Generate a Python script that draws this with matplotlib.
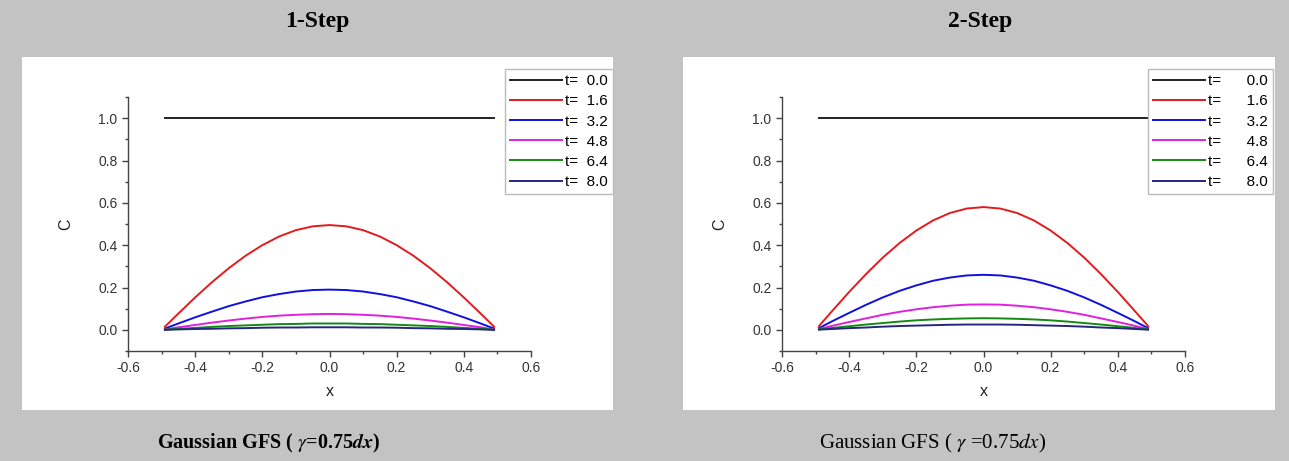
import matplotlib.pyplot as plt
from matplotlib.patches import Rectangle
from matplotlib.ticker import MultipleLocator

x = [-0.49, -0.45, -0.40, -0.35, -0.30, -0.25, -0.20, -0.15, -0.10, -0.05, 0.00,
     0.05, 0.10, 0.15, 0.20, 0.25, 0.30, 0.35, 0.40, 0.45, 0.49]
times = ['0.0', '1.6', '3.2', '4.8', '6.4', '8.0']

# 1-Step
c0 = [1.0] * 21
s1_c16 = [0.015, 0.077, 0.153, 0.225, 0.291, 0.350, 0.400, 0.441, 0.471, 0.489, 0.495,
          0.489, 0.471, 0.441, 0.400, 0.350, 0.291, 0.225, 0.153, 0.077, 0.015]
s1_c32 = [0.006, 0.030, 0.059, 0.086, 0.112, 0.134, 0.154, 0.169, 0.181, 0.188, 0.190,
          0.188, 0.181, 0.169, 0.154, 0.134, 0.112, 0.086, 0.059, 0.030, 0.006]
s1_c48 = [0.002, 0.012, 0.023, 0.034, 0.044, 0.053, 0.061, 0.067, 0.071, 0.074, 0.075,
          0.074, 0.071, 0.067, 0.061, 0.053, 0.044, 0.034, 0.023, 0.012, 0.002]
s1_c64 = [0.001, 0.005, 0.009, 0.014, 0.018, 0.021, 0.024, 0.027, 0.028, 0.030, 0.030,
          0.030, 0.028, 0.027, 0.024, 0.021, 0.018, 0.014, 0.009, 0.005, 0.001]
s1_c80 = [0.000, 0.002, 0.004, 0.005, 0.007, 0.008, 0.010, 0.011, 0.011, 0.012, 0.012,
          0.012, 0.011, 0.011, 0.010, 0.008, 0.007, 0.005, 0.004, 0.002, 0.000]

# 2-Step
s2_c16 = [0.018, 0.090, 0.179, 0.263, 0.341, 0.410, 0.469, 0.517, 0.552, 0.573, 0.580,
          0.573, 0.552, 0.517, 0.469, 0.410, 0.341, 0.263, 0.179, 0.090, 0.018]
s2_c32 = [0.008, 0.041, 0.080, 0.118, 0.153, 0.184, 0.210, 0.232, 0.247, 0.257, 0.260,
          0.257, 0.247, 0.232, 0.210, 0.184, 0.153, 0.118, 0.080, 0.041, 0.008]
s2_c48 = [0.004, 0.019, 0.037, 0.054, 0.071, 0.085, 0.097, 0.107, 0.114, 0.119, 0.120,
          0.119, 0.114, 0.107, 0.097, 0.085, 0.071, 0.054, 0.037, 0.019, 0.004]
s2_c64 = [0.002, 0.009, 0.017, 0.025, 0.032, 0.039, 0.045, 0.049, 0.052, 0.054, 0.055,
          0.054, 0.052, 0.049, 0.045, 0.039, 0.032, 0.025, 0.017, 0.009, 0.002]
s2_c80 = [0.001, 0.004, 0.008, 0.011, 0.015, 0.018, 0.020, 0.022, 0.024, 0.025, 0.025,
          0.025, 0.024, 0.022, 0.020, 0.018, 0.015, 0.011, 0.008, 0.004, 0.001]

colors = ['#222222', '#e41a1c', '#1010e0', '#e020e0', '#138a13', '#262680']

plt.rcParams['font.family'] = 'Liberation Sans'
plt.rcParams['mathtext.fontset'] = 'stix'

W, H = 1289, 461
fig = plt.figure(figsize=(W / 100, H / 100), dpi=100, facecolor='#c3c3c3')

# white panels behind the axes
for x0, x1 in [(22, 613), (683, 1275)]:
    fig.patches.append(Rectangle((x0 / W, 1 - 410 / H), (x1 - x0) / W, (410 - 57) / H,
                                 transform=fig.transFigure, facecolor='white',
                                 edgecolor='none', zorder=-10))

panels = [
    (128, [c0, s1_c16, s1_c32, s1_c48, s1_c64, s1_c80], 't=  ', (613, 69)),
    (782, [c0, s2_c16, s2_c32, s2_c48, s2_c64, s2_c80], 't=      ', (1273, 69)),
]

for left, series, prefix, leg_pos in panels:
    ax = fig.add_axes([left / W, 1 - 351 / H, 403 / W, (351 - 97) / H])
    ax.set_zorder(5)
    ax.set_facecolor('none')
    for ys, c, t in zip(series, colors, times):
        ax.plot(x, ys, color=c, lw=1.4, label=prefix + t)
    ax.set_xlim(-0.6, 0.6)
    ax.set_ylim(-0.1, 1.1)
    ax.xaxis.set_major_locator(MultipleLocator(0.2))
    ax.xaxis.set_minor_locator(MultipleLocator(0.1))
    ax.yaxis.set_minor_locator(MultipleLocator(0.1))
    ax.set_yticks([0.0, 0.2, 0.4, 0.6, 0.8, 1.0])
    for s in ['top', 'right']:
        ax.spines[s].set_visible(False)
    for s in ['left', 'bottom']:
        ax.spines[s].set_color('#444444')
        ax.spines[s].set_linewidth(1.0)
    ax.tick_params(which='major', direction='out', length=4, width=1, colors='#444444',
                   labelsize=10, labelcolor='#333333')
    ax.tick_params(which='minor', direction='out', length=2.5, width=1, colors='#444444')
    ax.xaxis.set_major_formatter(plt.FuncFormatter(lambda v, p: f'{v:.1f}'))
    ax.yaxis.set_major_formatter(plt.FuncFormatter(lambda v, p: f'{v:.1f}'))
    ax.set_xlabel('x', fontsize=11.5, color='#222222', labelpad=6)
    ax.set_ylabel('C', fontsize=11.5, color='#222222', labelpad=18)
    ax.legend(loc='upper right', bbox_to_anchor=(leg_pos[0] / W, 1 - leg_pos[1] / H),
              bbox_transform=fig.transFigure, fontsize=11, frameon=True, fancybox=False,
              edgecolor='#bbbbbb', framealpha=1, handlelength=3.4, handletextpad=0.2,
              labelspacing=0.4, borderpad=0.35, borderaxespad=0)

serif = 'Liberation Serif'
fig.text(317 / W, 1 - 22 / H, '1-Step', ha='center', va='center', fontsize=17,
         fontweight='bold', family=serif)
fig.text(980 / W, 1 - 22 / H, '2-Step', ha='center', va='center', fontsize=17,
         fontweight='bold', family=serif)
fig.text(269 / W, 1 - 443 / H, r'Gaussian GFS ( $\gamma$=0.75$\mathbfit{dx}$)', ha='center',
         va='center', fontsize=14.5, fontweight='bold', family=serif)
fig.text(933 / W, 1 - 443 / H, r'Gaussian GFS ( $\gamma$ =0.75$dx$)', ha='center',
         va='center', fontsize=15, family=serif)

fig.savefig('out.png', dpi=100, facecolor=fig.get_facecolor())
